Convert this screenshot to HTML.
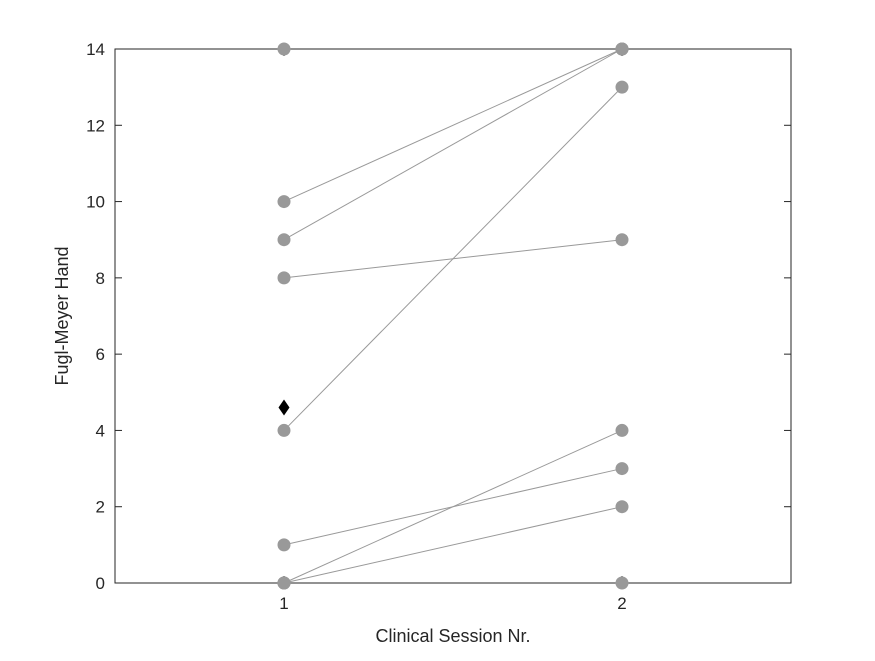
<!DOCTYPE html>
<html><head><meta charset="utf-8"><style>
html,body{margin:0;padding:0;background:#fff;}
svg text{font-family:"Liberation Sans",Arial,sans-serif;fill:#262626;}
</style></head><body>
<svg id="chart" width="875" height="656" xmlns="http://www.w3.org/2000/svg">
<rect width="875" height="656" fill="#fff"/>
<g id="plot"></g>
</svg>
<script>
const sessions = [1, 2];
const session1 = [14, 10, 9, 8, 4, 1, 0, 0, 0];
const session2 = [14, 14, 14, 9, 13, 3, 4, 2, 0];
const meanPoint = [1, 4.6];
const yTicks = [0, 2, 4, 6, 8, 10, 12, 14];
const xTicks = [1, 2];

const L=115,R=791,T=49,B=583;
const xs = v => L + (v-0.5)/2*(R-L);
const ys = v => B - v/14*(B-T);
const NS="http://www.w3.org/2000/svg";
const g=document.getElementById('plot');
function mk(tag,attrs){const e=document.createElementNS(NS,tag);for(const k in attrs)e.setAttribute(k,attrs[k]);g.appendChild(e);return e;}

session1.forEach((v,i)=>{
  let l=mk('line',{x1:xs(sessions[0]),y1:ys(v),x2:xs(sessions[1]),y2:ys(session2[i]),stroke:'#999','stroke-width':1});
  
  
});

// box
let box=mk('rect',{x:L,y:T,width:R-L,height:B-T,fill:'none',stroke:'#262626','stroke-width':1});



yTicks.forEach(t=>{
  const y=ys(t);
  let a=mk('line',{x1:L,x2:L+7,y1:y,y2:y,stroke:'#262626'});
  
  
  let b=mk('line',{x1:R,x2:R-7,y1:y,y2:y,stroke:'#262626'});
  
  
  let tx=mk('text',{x:L-10,y:y+6,'text-anchor':'end','font-size':17});
  tx.textContent=t;
  
  
});
xTicks.forEach(t=>{
  const x=xs(t);
  let a=mk('line',{x1:x,x2:x,y1:B,y2:B-7,stroke:'#262626'});
  
  
  let b=mk('line',{x1:x,x2:x,y1:T,y2:T+7,stroke:'#262626'});
  
  
  let tx=mk('text',{x:x,y:B+26,'text-anchor':'middle','font-size':17});
  tx.textContent=t;
  
  
});

session1.forEach((v,i)=>{
  let c1=mk('circle',{cx:xs(sessions[0]),cy:ys(v),r:6.5,fill:'#999'});
  
  
  let c2=mk('circle',{cx:xs(sessions[1]),cy:ys(session2[i]),r:6.5,fill:'#999'});
  
  
});
const dx=xs(meanPoint[0]),dy=ys(meanPoint[1]);
let d=mk('polygon',{points:`${dx},${dy-8} ${dx+5.5},${dy} ${dx},${dy+8} ${dx-5.5},${dy}`,fill:'#000'});



let xl=mk('text',{x:(L+R)/2,y:642,'text-anchor':'middle','font-size':18});
xl.textContent='Clinical Session Nr.';


let yl=mk('text',{x:0,y:0,'text-anchor':'middle','font-size':18,transform:`translate(68,${(T+B)/2}) rotate(-90)`});
yl.textContent='Fugl-Meyer Hand';


</script>
</body></html>
